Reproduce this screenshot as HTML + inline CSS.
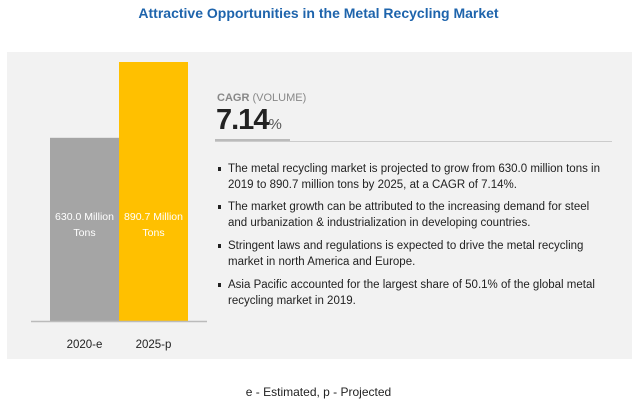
<!DOCTYPE html>
<html><head><meta charset="utf-8"><style>
body{margin:0;width:637px;height:402px;background:#fff;font-family:"Liberation Sans",sans-serif;position:relative;overflow:hidden}
.t{position:absolute;white-space:nowrap}
.bl{position:absolute;left:228px;font-size:11.5px;line-height:16px;color:#222;width:420px;white-space:nowrap}
.bl:before{content:"";position:absolute;left:-10px;top:6px;width:3px;height:4px;background:#222}
</style></head><body>
<div class="t" style="left:0;width:637px;text-align:center;top:5px;font-size:14px;font-weight:bold;color:#1e64ac">Attractive Opportunities in the Metal Recycling Market</div>
<div style="position:absolute;left:7px;top:52px;width:625px;height:307px;background:#f2f2f2"></div>
<svg id="chart" width="637" height="402" style="position:absolute;left:0;top:0"></svg>
<div class="t" style="left:217px;top:92px;font-size:11px;color:#888"><b>CAGR</b> (VOLUME)</div>
<div class="t" style="left:216px;top:104px;font-size:29px;font-weight:bold;color:#222;letter-spacing:-1px">7.14<span style="font-size:15px;font-weight:normal;color:#555">%</span></div>
<div style="position:absolute;left:215px;top:139px;width:75px;height:3px;background:#bbb"></div>
<div style="position:absolute;left:215px;top:141px;width:397px;height:1px;background:#ccc"></div>
<div class="bl" style="top:161px">The metal recycling market is projected to grow from 630.0 million tons in<br>2019 to 890.7 million tons by 2025, at a CAGR of 7.14%.</div>
<div class="bl" style="top:199px">The market growth can be attributed to the increasing demand for steel<br>and urbanization &amp; industrialization in developing countries.</div>
<div class="bl" style="top:238px">Stringent laws and regulations is expected to drive the metal recycling<br>market in north America and Europe.</div>
<div class="bl" style="top:277px">Asia Pacific accounted for the largest share of 50.1% of the global metal<br>recycling market in 2019.</div>
<div class="t" style="left:0;width:637px;text-align:center;top:385px;font-size:12px;color:#222">e - Estimated, p - Projected</div>
<script>
const categories=["2020-e","2025-p"];
const values=[630.0,890.7];
const valueLabels=["630.0 Million","890.7 Million"];
const colors=["#a5a5a5","#ffc000"];
const svg=document.getElementById('chart');
const NS="http://www.w3.org/2000/svg";
const base=321,maxH=259,maxV=890.7,x0=50,bw=69;
const y=v=>base-v/maxV*maxH;
categories.forEach((c,i)=>{
 const r=document.createElementNS(NS,'rect');
 r.setAttribute('x',x0+i*bw);r.setAttribute('y',y(values[i]));
 r.setAttribute('width',bw);r.setAttribute('height',base-y(values[i]));
 r.setAttribute('fill',colors[i]);
 
 
 svg.appendChild(r);
 const cx=x0+i*bw+bw/2;
 [[valueLabels[i],220],["Tons",236]].forEach(([s,yy])=>{
  const t=document.createElementNS(NS,'text');
  t.setAttribute('x',cx);t.setAttribute('y',yy);t.setAttribute('text-anchor','middle');
  t.setAttribute('font-size','10.5');t.setAttribute('fill','#fff');t.textContent=s;
  
  
  svg.appendChild(t);
 });
 const l=document.createElementNS(NS,'text');
 l.setAttribute('x',cx);l.setAttribute('y',348);l.setAttribute('text-anchor','middle');
 l.setAttribute('font-size','11.5');l.setAttribute('fill','#222');l.textContent=c;
 
 
 svg.appendChild(l);
});
const ax=document.createElementNS(NS,'line');
ax.setAttribute('x1',31);ax.setAttribute('x2',207);ax.setAttribute('y1',base+0.5);ax.setAttribute('y2',base+0.5);
ax.setAttribute('stroke','#bbb');ax.setAttribute('stroke-width','1.5');


svg.appendChild(ax);
</script>
</body></html>
